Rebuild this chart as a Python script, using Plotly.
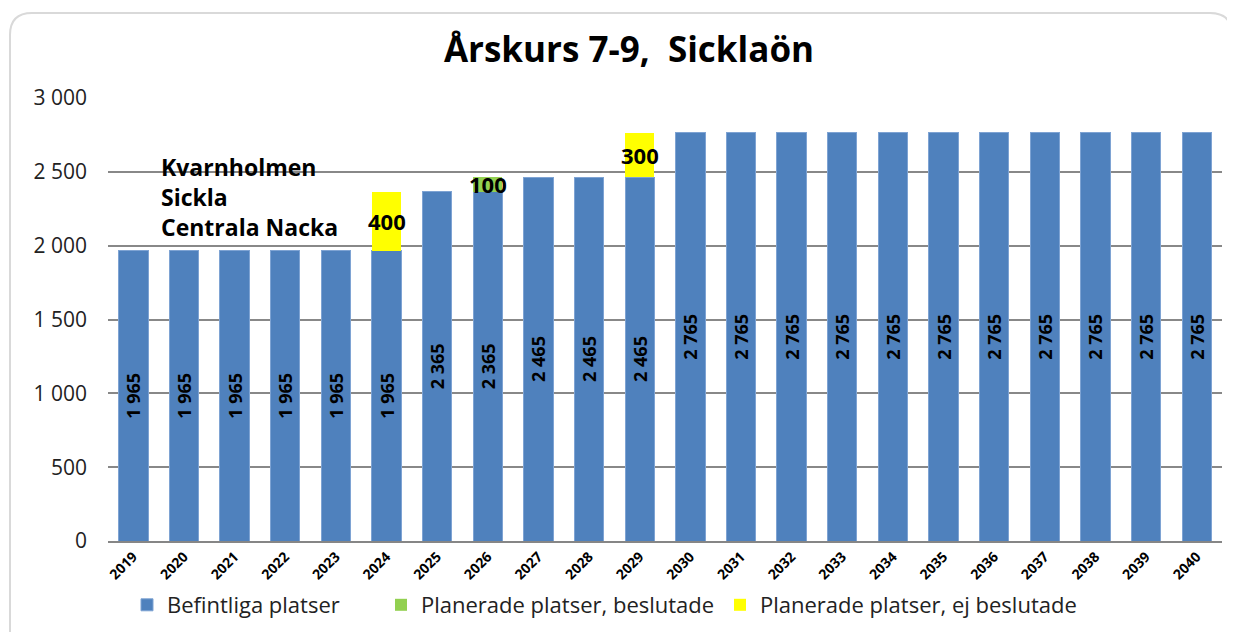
import plotly.graph_objects as go

years = [str(y) for y in range(2019, 2041)]
befintliga = [1965, 1965, 1965, 1965, 1965, 1965, 2365, 2365, 2465, 2465, 2465,
              2765, 2765, 2765, 2765, 2765, 2765, 2765, 2765, 2765, 2765, 2765]
beslutade = [0, 0, 0, 0, 0, 0, 0, 100, 0, 0, 0, 0, 0, 0, 0, 0, 0, 0, 0, 0, 0, 0]
ej_beslutade = [0, 0, 0, 0, 0, 400, 0, 0, 0, 0, 300, 0, 0, 0, 0, 0, 0, 0, 0, 0, 0, 0]
y_ticks = [0, 500, 1000, 1500, 2000, 2500, 3000]
y_tick_labels = ["0", "500", "1 000", "1 500", "2 000", "2 500", "3 000"]
names = ["Befintliga platser", "Planerade platser, beslutade", "Planerade platser, ej beslutade"]
note_lines = ["Kvarnholmen", "Sickla", "Centrala Nacka"]

FONT = "Open Sans"
W, H = 1235, 632
OFF = 8  # page body margin
# plot area in screen pixels: left 108, right 1222, top 98, bottom 541
ML, MR, MT, MB = 108 - OFF, W - (1222 - OFF), 98 - OFF, H - (541 - OFF)
pw, ph = W - ML - MR, H - MT - MB

def px_x(p): return (p - OFF - ML) / pw
def px_y(p): return (H - MB - (p - OFF)) / ph

def fmt(v):
    return f"{v:,}".replace(",", " ")

fig = go.Figure()
fig.add_trace(go.Bar(
    x=years, y=befintliga, name=names[0], marker_color="#4F81BD",
    marker_line=dict(color="#7EA3D3", width=1), legend="legend",
    text=[fmt(v) for v in befintliga], textposition="inside",
    insidetextanchor="middle", textangle=-90, constraintext="none",
    textfont=dict(family=FONT, size=18, color="black", weight="bold"),
))
fig.add_trace(go.Bar(
    x=years, y=beslutade, name=names[1], marker_color="#92D050", marker_line_width=0,
    legend="legend2",
))
fig.add_trace(go.Bar(
    x=years, y=ej_beslutade, name=names[2], marker_color="#FFFF00", marker_line_width=0,
    legend="legend3",
))

# segment labels for planned places (centered on their segments); x given as category index
for i in range(len(years)):
    base = befintliga[i]
    for vals in (beslutade, ej_beslutade):
        if vals[i]:
            fig.add_annotation(x=i, y=base + vals[i] / 2, text=fmt(vals[i]),
                               showarrow=False,
                               font=dict(family=FONT, size=22, color="black", weight="bold"))
            base += vals[i]

fig.add_annotation(xref="paper", yref="paper", x=px_x(159), y=px_y(149),
                   xanchor="left", yanchor="top", align="left", showarrow=False,
                   text="<br>".join(note_lines),
                   font=dict(family=FONT, size=23, color="black", weight="bold"))

# rounded chart frame
x0, x1, y0, y1 = px_x(10), px_x(1232), px_y(13), px_y(680)
rx, ry = 22 / pw, 22 / ph
path = (f"M {x0},{y1} L {x0},{y0 - ry} Q {x0},{y0} {x0 + rx},{y0} "
        f"L {x1 - rx},{y0} Q {x1},{y0} {x1},{y0 - ry} L {x1},{y1}")
fig.add_shape(type="path", xref="paper", yref="paper", path=path,
              line=dict(color="#D9D9D9", width=2), layer="below")

legend_font = dict(family=FONT, size=22, color="#222")
leg_common = dict(orientation="h", xanchor="left", y=px_y(584), yanchor="top",
                  font=legend_font, bgcolor="rgba(0,0,0,0)")

fig.update_layout(
    width=W, height=H, barmode="stack", bargap=0.42,
    margin=dict(l=ML, r=MR, t=MT, b=MB, autoexpand=False),
    plot_bgcolor="white", paper_bgcolor="white",
    title=dict(text="Årskurs 7-9, \u00a0Sicklaön", x=(629 - OFF) / W, xanchor="center",
               y=1 - (50 - OFF) / H, yanchor="middle",
               font=dict(family=FONT, size=35, color="black", weight="bold")),
    showlegend=True,
    legend=dict(x=px_x(127), **leg_common),
    legend2=dict(x=px_x(381), **leg_common),
    legend3=dict(x=px_x(720), **leg_common),
    font=dict(family=FONT),
)
fig.update_xaxes(type="category", tickangle=-45, automargin=False,
                 tickfont=dict(family=FONT, size=14, color="black", weight="bold"),
                 showline=True, linecolor="#868686", linewidth=2, ticks="", showgrid=False)
fig.update_yaxes(range=[0, 3000], tickvals=y_ticks, ticktext=y_tick_labels, automargin=False,
                 tickfont=dict(family=FONT, size=21, color="#222"),
                 showgrid=True, gridcolor="#888888", gridwidth=2, zeroline=False,
                 ticks="", ticklabelstandoff=20, layer="below traces")

fig.write_html("out.html")
